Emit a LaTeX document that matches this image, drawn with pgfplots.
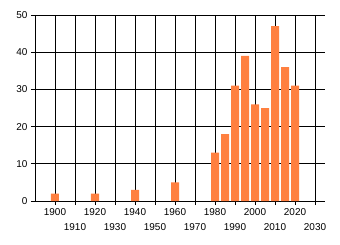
\documentclass[border=0pt]{standalone}
\usepackage{fontspec}
\setmainfont{Liberation Sans}
\usepackage{pgfplots}
\pgfplotsset{compat=1.18}
\definecolor{barorange}{RGB}{255,128,64}
\begin{document}
\begin{tikzpicture}
\path[use as bounding box] (-35bp,-44bp) rectangle (305bp,201bp);
\begin{axis}[
  at={(0,0)}, anchor=south west,
  scale only axis, width=290bp, height=186bp,
  xmin=1890, xmax=2035, ymin=0, ymax=50,
  axis lines*=left,
  axis line style={line width=0.8pt, black},
  tick align=outside, major tick length=4bp,
  tick style={line width=0.8pt, black},
  xtick={1900,1920,...,2020},
  extra x ticks={1910,1930,...,2030},
  extra x tick style={grid=major, tick label style={yshift=-15bp}},
  ytick={0,10,...,50},
  grid=major,
  major grid style={line width=0.8pt, black},
  /pgf/number format/assume math mode=true,
  /pgf/number format/1000 sep={},
  tick label style={font=\fontsize{10}{12}\selectfont, black},
  ybar, bar width=8bp, bar shift=0pt,
]
\addplot[fill=barorange, draw=none] coordinates {
 (1900,2) (1920,2) (1940,3) (1960,5) (1980,13) (1985,18) (1990,31)
 (1995,39) (2000,26) (2005,25) (2010,47) (2015,36) (2020,31)
};
\end{axis}
\end{tikzpicture}
\end{document}
